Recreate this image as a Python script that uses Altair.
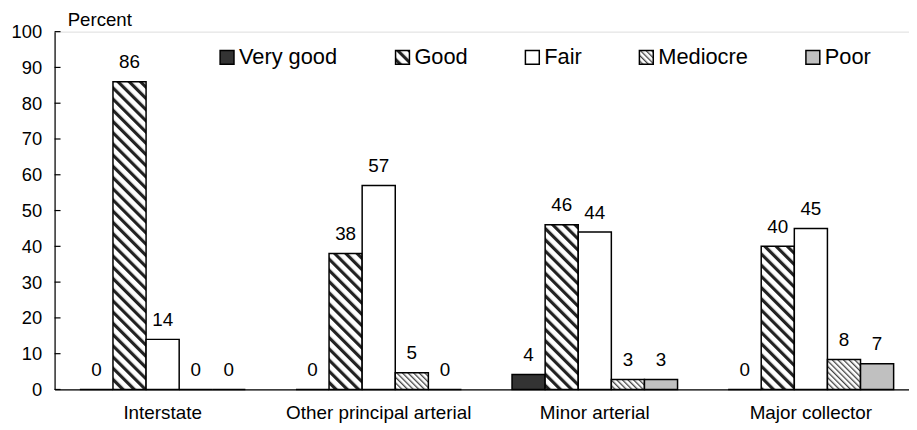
import altair as alt
import pandas as pd
import jinja2

# ---------------- data ----------------
categories = ["Interstate", "Other principal arterial", "Minor arterial", "Major collector"]
series = ["Very good", "Good", "Fair", "Mediocre", "Poor"]
very_good = [0, 0, 4.2, 0]
good = [86, 38, 46, 40]
fair = [14, 57, 44, 45]
mediocre = [0, 4.7, 2.8, 8.4]
poor = [0, 0, 2.8, 7.2]
y_ticks = [0, 10, 20, 30, 40, 50, 60, 70, 80, 90, 100]

series_values = [very_good, good, fair, mediocre, poor]
fills = ["#333333", "url(#hatchGood)", "#ffffff", "url(#hatchMed)", "#c0c0c0"]

rows = []
for s, vals in zip(series, series_values):
    for c, v in zip(categories, vals):
        rows.append({"category": c, "series": s, "value": v})
df = pd.DataFrame(rows)
ticks_df = pd.DataFrame({"value": y_ticks})

FONT = "Liberation Sans"

x_axis = alt.Axis(
    title=None, labelAngle=0, ticks=False, tickSize=0, grid=False,
    domainColor="black", domainWidth=1.2, labelPadding=14, labelLimit=0,
    labelFontSize=19, labelColor="black", labelFont=FONT,
)
x_scale = alt.Scale(range=[0, 872], paddingInner=0.234, paddingOuter=0.117)
xo_scale = alt.Scale(domain=series, paddingInner=0, paddingOuter=0)
y_axis = alt.Axis(
    values=y_ticks, tickCount=11, ticks=False, tickSize=0, grid=False,
    labelOverlap=False, labelBound=False,
    domainColor="black", domainWidth=1.2, labelPadding=13,
    labelFontSize=18.5, labelColor="black", labelFont=FONT,
    title="Percent", titleAngle=0, titleAlign="left", titleBaseline="alphabetic",
    titleX=12.7, titleY=-6, titleFontSize=18.8, titleFontWeight="normal",
    titleColor="black", titleFont=FONT,
)
y_scale = alt.Scale(domain=[0, 100], nice=False)

bars = alt.Chart(df).mark_bar(stroke="black", strokeWidth=1.5, opacity=1).encode(
    x=alt.X("category:N", sort=categories, scale=x_scale, axis=x_axis),
    xOffset=alt.XOffset("series:N", sort=series, scale=xo_scale),
    y=alt.Y("value:Q", scale=y_scale, axis=y_axis),
    fill=alt.Fill(
        "series:N",
        scale=alt.Scale(domain=series, range=fills),
        legend=alt.Legend(
            title=None, orient="none", legendX=163, legendY=15,
            direction="horizontal", symbolType="square", symbolSize=196,
            symbolStrokeColor="black", symbolStrokeWidth=1.5, symbolOpacity=1,
            labelFontSize=22, labelColor="black", labelFont=FONT,
            labelOffset=1, columnPadding=54,
        ),
    ),
)

labels = alt.Chart(df).mark_text(
    dy=-13.5, baseline="alphabetic", align="center",
    fontSize=19, font=FONT, color="black",
).encode(
    x=alt.X("category:N", sort=categories, scale=x_scale, axis=x_axis),
    xOffset=alt.XOffset("series:N", sort=series, scale=xo_scale),
    y=alt.Y("value:Q", scale=y_scale, axis=y_axis),
    text=alt.Text("value:Q", format=".0f"),
)

tick_marks = alt.Chart(ticks_df).mark_rule(color="black", strokeWidth=1.2).encode(
    y=alt.Y("value:Q", scale=y_scale, axis=y_axis),
    x=alt.value(0),
    x2=alt.value(6),
)

chart = alt.layer(bars, labels, tick_marks).properties(
    width=862,
    height=361,
    autosize=alt.AutoSizeParams(type="none"),
    padding={"left": 47, "top": 22, "right": 0, "bottom": 34},
).configure_view(stroke=None).configure(font=FONT)

PAGE = jinja2.Template("""<!DOCTYPE html>
<html>
<head>
  <meta charset="utf-8">
  <style>
    #{{ output_div }}.vega-embed { width: 100%; display: flex; }
    #{{ output_div }}.vega-embed details,
    #{{ output_div }}.vega-embed details summary { position: relative; }
  </style>
  <script type="text/javascript" src="{{ base_url }}/vega@{{ vega_version }}"></script>
  <script type="text/javascript" src="{{ base_url }}/vega-lite@{{ vegalite_version }}"></script>
  <script type="text/javascript" src="{{ base_url }}/vega-embed@{{ vegaembed_version }}"></script>
</head>
<body>
  <svg width="0" height="0" style="position:absolute">
    <defs>
      <pattern id="hatchGood" patternUnits="userSpaceOnUse" width="8" height="8" patternTransform="rotate(-45)">
        <rect x="0" y="0" width="8" height="8" fill="#ffffff"/>
        <rect x="0" y="0" width="3.2" height="8" fill="#222222"/>
      </pattern>
      <pattern id="hatchMed" patternUnits="userSpaceOnUse" width="4" height="4" patternTransform="rotate(-45)">
        <rect x="0" y="0" width="4" height="4" fill="#ffffff"/>
        <rect x="0" y="0" width="1.3" height="4" fill="#444444"/>
      </pattern>
    </defs>
  </svg>
  <div id="{{ output_div }}"></div>
  <script>
    (function(vegaEmbed) {
      var spec = {{ spec }};
      var embedOpt = {{ embed_options }};
      vegaEmbed("#{{ output_div }}", spec, embedOpt);
    })(vegaEmbed);
  </script>
</body>
</html>""")

chart.save("out.html", embed_options={"renderer": "svg", "actions": False}, template=PAGE)
